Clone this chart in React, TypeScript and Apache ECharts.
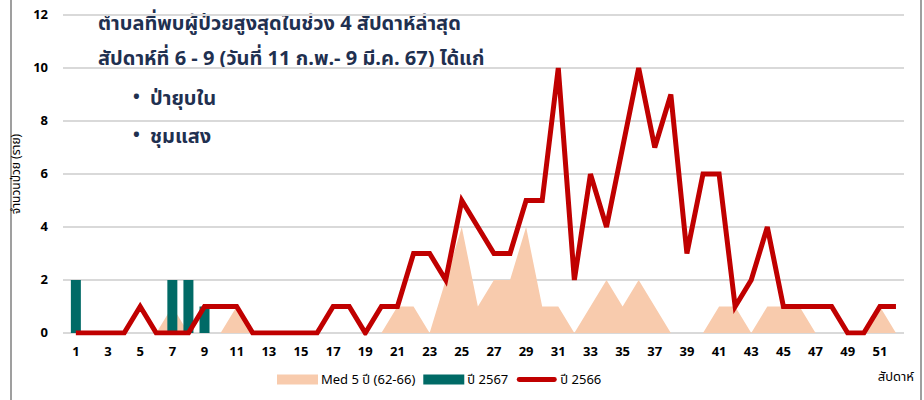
import React, { useEffect, useRef } from "react";
import * as echarts from "echarts";

const weeks: number[] = Array.from({ length: 52 }, (_, i) => i + 1);
const weekTickLabels: number[] = [1, 3, 5, 7, 9, 11, 13, 15, 17, 19, 21, 23, 25, 27, 29, 31, 33, 35, 37, 39, 41, 43, 45, 47, 49, 51];

const med5: number[] = [0, 0, 0, 0, 0, 0, 1, 0, 0, 0, 1, 0, 0, 0, 0, 0, 0, 0, 0, 0, 1, 1, 0, 2, 4, 1, 2, 2, 4, 1, 1, 0, 1, 2, 1, 2, 1, 0, 0, 0, 1, 1, 0, 1, 1, 1, 0, 0, 0, 0, 1, 0];
const y2567Weeks: number[] = [1, 7, 8, 9];
const y2567: number[] = [2, 2, 2, 1];
const y2566: number[] = [0, 0, 0, 0, 1, 0, 0, 0, 1, 1, 1, 0, 0, 0, 0, 0, 1, 1, 0, 1, 1, 3, 3, 2, 5, 4, 3, 3, 5, 5, 10, 2, 6, 4, 7, 10, 7, 9, 3, 6, 6, 1, 2, 4, 1, 1, 1, 1, 0, 0, 1, 1];

const seriesNames = ["Med 5 ปี (62-66)", "ปี 2567", "ปี 2566"];
const titleLines = [
  "ตำบลที่พบผู้ป่วยสูงสุดในช่วง 4 สัปดาห์ล่าสุด",
  "สัปดาห์ที่ 6 - 9 (วันที่ 11 ก.พ.- 9 มี.ค. 67) ได้แก่",
];
const districts = ["ป่ายุบใน", "ชุมแสง"];

const FONT = "Tahoma, 'Noto Sans Thai', 'Noto Sans', sans-serif";
const NAVY = "#1f3050";
const CAPSULE = "path://M0,0 M43,10 M3,2.5 L40,2.5 A2.5,2.5 0 0 1 40,7.5 L3,7.5 A2.5,2.5 0 0 1 3,2.5 Z";

export default function App() {
  const ref = useRef<HTMLDivElement>(null);
  useEffect(() => {
    if (!ref.current) return;
    const chart = echarts.init(ref.current, undefined, { renderer: "svg" });
    const option: any = {
      animation: false,
      backgroundColor: "#ffffff",
      textStyle: { fontFamily: FONT },
      grid: { left: 63, right: 20, top: 15, bottom: 67 },
      xAxis: {
        type: "value",
        min: 0.2,
        max: 52.5,
        splitLine: { show: false },
        axisLine: { show: false },
        axisTick: { show: false },
        axisLabel: {
          customValues: weekTickLabels,
          color: "#000",
          fontWeight: "bold",
          fontSize: 13,
          fontFamily: FONT,
          margin: 12,
        },
      },
      yAxis: {
        type: "value",
        min: 0,
        max: 12,
        interval: 2,
        name: "จำนวนป่วย (ราย)",
        nameLocation: "middle",
        nameGap: 38,
        nameTextStyle: { color: "#000", fontSize: 12, fontFamily: FONT },
        axisLine: { show: false },
        axisTick: { show: false },
        axisLabel: { color: "#000", fontWeight: "bold", fontSize: 13, margin: 15, fontFamily: FONT },
        splitLine: { lineStyle: { color: "#d9d9d9", width: 2 } },
      },
      legend: {
        left: 272,
        top: 368,
        itemWidth: 41,
        itemHeight: 10,
        itemGap: 8,
        textStyle: { color: "#000", fontSize: 13, fontFamily: FONT, padding: [0, 0, 0, -2] },
        data: [
          { name: seriesNames[0], icon: "rect" },
          { name: seriesNames[1], icon: "rect" },
          { name: seriesNames[2], icon: CAPSULE },
        ],
      },
      series: [
        {
          name: seriesNames[0],
          type: "line",
          data: weeks.map((w, i) => [w, med5[i]]),
          symbol: "none",
          lineStyle: { width: 0, color: "#f8cbad" },
          itemStyle: { color: "#f8cbad" },
          areaStyle: { color: "#f8cbad", opacity: 1 },
          z: 1,
        },
        {
          name: seriesNames[1],
          type: "bar",
          data: y2567Weeks.map((w, i) => [w, y2567[i]]),
          barWidth: 10,
          itemStyle: { color: "#006a66" },
          z: 2,
        },
        {
          name: seriesNames[2],
          type: "line",
          data: weeks.map((w, i) => [w, y2566[i]]),
          symbol: "none",
          lineStyle: { width: 5, color: "#c00000", join: "miter" },
          itemStyle: { color: "#c00000" },
          z: 3,
        },
      ],
      graphic: [
        {
          type: "rect",
          shape: { x: 11, y: -3, width: 910, height: 406 },
          style: { fill: "none", stroke: "#808080", lineWidth: 1.5 },
          silent: true,
        },
        {
          type: "text",
          left: 98,
          top: 14,
          style: { text: titleLines[0], fill: NAVY, font: `bold 20px ${FONT}` },
        },
        {
          type: "text",
          left: 98,
          top: 49,
          style: { text: titleLines[1], fill: NAVY, font: `bold 20px ${FONT}` },
        },
        {
          type: "text",
          left: 133,
          top: 88,
          style: { text: "•", fill: NAVY, font: `bold 18px ${FONT}` },
        },
        {
          type: "text",
          left: 150,
          top: 89,
          style: { text: districts[0], fill: NAVY, font: `bold 20px ${FONT}` },
        },
        {
          type: "text",
          left: 133,
          top: 126,
          style: { text: "•", fill: NAVY, font: `bold 18px ${FONT}` },
        },
        {
          type: "text",
          left: 150,
          top: 127,
          style: { text: districts[1], fill: NAVY, font: `bold 20px ${FONT}` },
        },
        {
          type: "text",
          right: 10,
          top: 370,
          style: { text: "สัปดาห์", fill: "#000", font: `13px ${FONT}` },
        },
      ],
    };
    chart.setOption(option);
    return () => chart.dispose();
  }, []);
  return <div ref={ref} style={{ position: "fixed", left: 0, top: 0, width: 924, height: 400 }} />;
}
